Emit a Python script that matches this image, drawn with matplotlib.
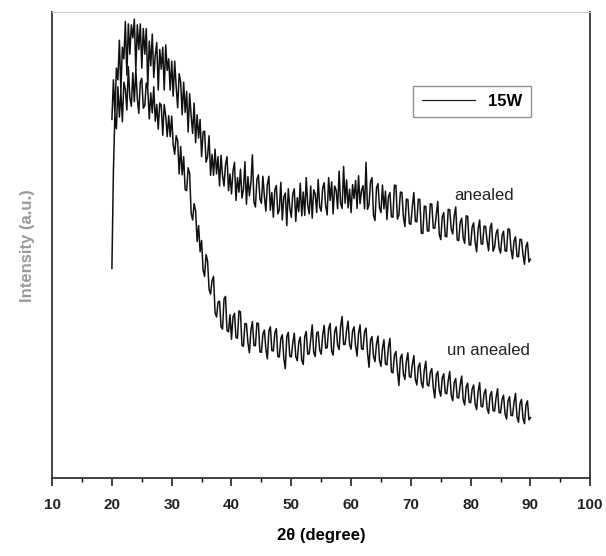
import numpy as np
from matplotlib import pyplot as plt
from matplotlib.ticker import MultipleLocator

plt.rcParams['font.family'] = ['Liberation Sans', 'DejaVu Sans']

# 2 theta sampling (degree), 0.25 step from 20 to 90
two_theta = np.arange(20.0, 90.001, 0.25)

# values (arbitrary units, 0 = bottom of axes, 100 = top)
annealed = [
    77, 85.5, 78, 88, 85.5, 94, 83, 92.5, 90, 98, 86.5, 97.5, 91, 97.3, 94.5, 98.5, 87.5, 97.3, 92, 97.5,
    88, 96.5, 91, 96.5, 84, 93.8, 88.5, 95.3, 86, 90.8, 93.5, 83.3, 92, 87.8, 92.5, 83.3, 93, 87.5, 90, 83.3,
    89.5, 82, 89.5, 84, 79.5, 86.8, 85, 78, 85, 78.5, 83, 74.3, 82.5, 77.8, 74, 80.5, 72, 78, 73, 77,
    69, 74.3, 74.5, 67.8, 69, 73.5, 65, 69.5, 65, 70.6, 65.3, 69, 62.7, 69.3, 65, 62.7, 67.3, 69, 61.7, 65.3,
    61, 65.9, 67.8, 59.6, 64.5, 61.4, 66.3, 60.1, 62, 67.9, 58.8, 64.7, 60.6, 63.5, 69.4, 59.3, 58.2, 64.1, 65.1, 60,
    59, 64.8, 60.5, 57.3, 63, 64.8, 57.5, 61.3, 56, 61.9, 62.8, 56.7, 57.6, 63.5, 55.4, 60.3, 61.2, 54.2, 62.1, 58,
    56, 61, 62.1, 55.1, 60.2, 57.2, 63.3, 56.3, 61.4, 56.4, 64.5, 58.6, 56.7, 62.7, 55.8, 61.9, 61, 57, 64.1, 58.2,
    57.3, 62.3, 63.4, 58.4, 56.5, 64.5, 59.6, 63.6, 56.7, 62.7, 61.8, 57.8, 65.9, 58.9, 57.9, 66.9, 59, 64, 58, 62,
    57, 63, 60, 63.9, 57.9, 64.9, 58.9, 61.8, 62.8, 57.8, 67.8, 57.7, 58.7, 63.6, 64.5, 56.4, 55.3, 62.3, 63.2, 58.1,
    57, 62.9, 57.8, 61.6, 55.5, 60.4, 61.3, 56.1, 56, 62.9, 62.8, 55.6, 56.5, 61.4, 61.3, 56.1, 54, 59.9, 59.8, 54.6,
    54.5, 58.4, 61.3, 55.1, 55, 59.9, 59.8, 52.6, 52.5, 58.4, 58.3, 53.1, 53, 58.9, 58.8, 53.7, 53.6, 56.5, 59.4, 52.3,
    51.2, 56.1, 57, 51.9, 51.8, 57.7, 57.6, 53.5, 52.4, 56.3, 58.2, 51.1, 51, 54.9, 55.8, 51.6, 50.4, 56.3, 56.2, 50.1,
    50, 53.9, 54.8, 50.7, 48.6, 53.5, 55.4, 50.3, 50.2, 54.1, 54, 50.9, 48.8, 53.8, 54.7, 48.7, 49.6, 52.5, 53.4, 49.4,
    48.3, 52.1, 53, 48.8, 48.7, 53.5, 53.4, 49.2, 47.1, 50.9, 51.8, 47.6, 47.5, 51.3, 51.2, 48, 45.9, 49.7, 50.6, 46.4,
    47,
]

unannealed = [
    45, 66, 78, 75, 84, 77.5, 83, 76.5, 85, 83.5, 79, 88.3, 81.7, 79.8, 87, 80.8, 87.7, 81.5, 78.3, 85,
    85.8, 79.4, 80, 84.8, 83.5, 77.1, 82.7, 78.4, 84, 76.6, 80.2, 74.9, 80.5, 80, 73.6, 80.2, 77.8, 73.3, 77.8, 73.3,
    77.7, 71.6, 69.5, 73.5, 72.4, 65.3, 71.2, 65.1, 69, 61.9, 61.7, 66.6, 65.4, 56.9, 55.4, 58.9, 57.4, 50.8, 54.2, 48.6,
    51, 44.7, 43.3, 48, 46.6, 40.5, 39.5, 42.4, 43.3, 35.5, 34.6, 37.8, 38, 32.5, 32, 38.5, 39, 31.7, 31.4, 35.1,
    29.8, 34.6, 35.4, 30.2, 30, 35.9, 35.7, 28.5, 28.3, 33.2, 33.1, 29, 26.9, 31.8, 33.6, 28.5, 28.4, 33.3, 33.2, 27.1,
    27, 30.9, 31.8, 27.7, 25.6, 31.6, 32.5, 27.4, 27.3, 31.2, 32.1, 26.1, 26, 29.9, 30.8, 25.7, 23.5, 30.4, 31.3, 26.2,
    26, 29, 31.1, 26.1, 25.2, 29.2, 30.3, 25.3, 24.4, 30.4, 31.5, 26.6, 26.7, 29.8, 32.9, 27, 26.1, 31.2, 31.4, 27.5,
    26.6, 30.7, 32.8, 27.9, 28, 32.1, 33.2, 27.3, 26.4, 31.4, 32.5, 28.5, 27.6, 32.6, 34.7, 28.7, 28.7, 31.7, 33.7, 28.7,
    27.7, 31.6, 32.5, 28.4, 26.2, 31.1, 32.9, 27.8, 27.6, 31.4, 32.2, 27, 23.8, 29.6, 30.4, 26.2, 25, 28.8, 30.5, 25.3,
    24, 27.9, 29.7, 24.5, 24.3, 28.2, 30, 22.8, 22.6, 26.4, 27.2, 23.1, 19.9, 25.8, 26.6, 22.4, 21.2, 25.1, 26.9, 21.8,
    21.6, 24.5, 26.3, 21.2, 20, 23.9, 24.7, 20.6, 19.4, 23.3, 25.1, 20, 19.8, 22.7, 23.5, 19.4, 17.2, 22.1, 22.9, 18.8,
    17.6, 21.5, 22.4, 18.3, 18.1, 21, 22.9, 17.8, 16.6, 20.5, 21.4, 17.3, 17.2, 20.1, 21.9, 16.8, 15.7, 19.6, 20.4, 16.3,
    16.2, 19.1, 20, 15.9, 14.7, 18.6, 20.5, 15.4, 15.3, 18.2, 19.1, 15, 13.9, 17.8, 18.6, 14.5, 14.4, 17.3, 19.2, 14.1,
    14, 16.9, 17.8, 13.8, 12.7, 16.6, 17.5, 13.5, 13.4, 16.3, 18.2, 13.1, 12, 16, 16.9, 12.8, 11.7, 15.7, 16.6, 12.5,
    13,
]

x_ticks = [10, 20, 30, 40, 50, 60, 70, 80, 90, 100]

fig = plt.figure(figsize=(6.06, 5.56), dpi=100)
ax = fig.add_axes([0.086, 0.14, 0.888, 0.838])

ax.plot(two_theta, annealed, color='#111111', lw=1.1, label='15W')
ax.plot(two_theta, unannealed, color='#111111', lw=1.1)

ax.text(82.3, 60.7, 'anealed', fontsize=12, ha='center', va='center', color='#222222')
ax.text(82.9, 27.5, 'un anealed', fontsize=12, ha='center', va='center', color='#222222')

ax.set_xlim(10, 100)
ax.set_ylim(0, 100)
ax.set_xticks(x_ticks)
ax.xaxis.set_minor_locator(MultipleLocator(5))
ax.set_yticks([])
ax.tick_params(axis='x', which='major', direction='out', length=6, width=1.2,
               labelsize=11, pad=8, colors='#222222')
ax.tick_params(axis='x', which='minor', direction='out', length=3, width=1.0)
for lab in ax.get_xticklabels():
    lab.set_fontweight('bold')

for side in ['left', 'bottom', 'right']:
    ax.spines[side].set_linewidth(1.3)
    ax.spines[side].set_color('#333333')
ax.spines['top'].set_color('#cccccc')

ax.set_xlabel('2θ (degree)', fontsize=12, fontweight='bold', labelpad=12)
ax.set_ylabel('Intensity (a.u.)', fontsize=12, fontweight='bold', color='#999999', labelpad=12)

leg = ax.legend(loc='upper right', bbox_to_anchor=(0.905, 0.86), frameon=True, fancybox=False,
                handlelength=3.2, borderpad=0.5, prop={'weight': 'bold', 'size': 12})
leg.get_frame().set_edgecolor('#777777')
leg.get_frame().set_linewidth(1.0)
leg.get_lines()[0].set_linewidth(0.8)

fig.savefig('out.png', dpi=100)
